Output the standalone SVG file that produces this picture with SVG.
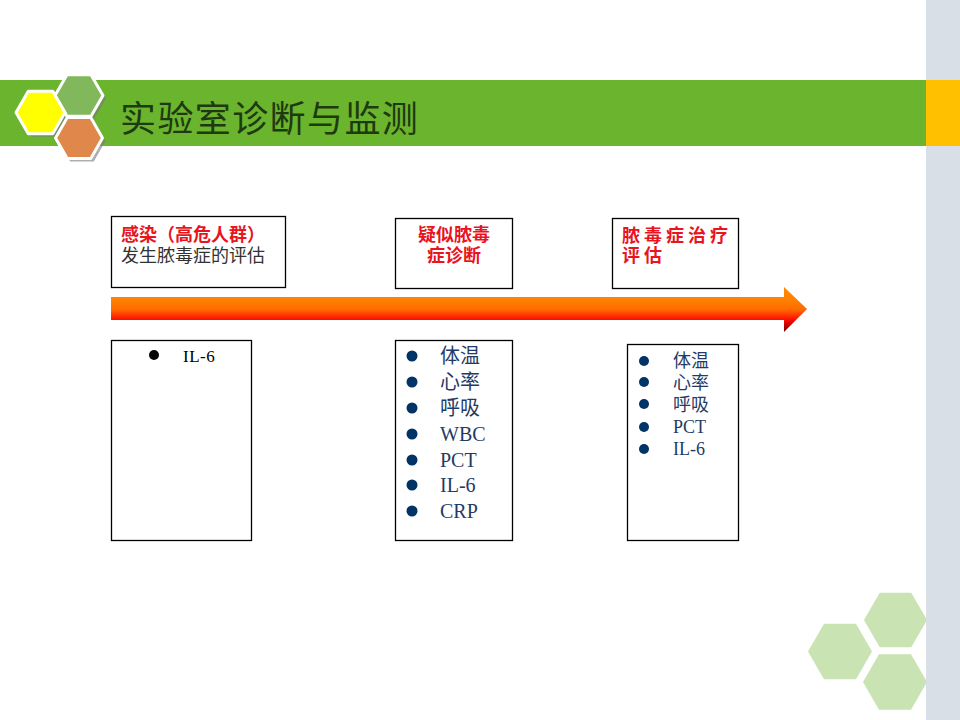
<svg xmlns="http://www.w3.org/2000/svg" width="960" height="720" viewBox="0 0 960 720">
<defs>
<style>
.box{fill:#fff;stroke:#000;stroke-width:1.3}
.red{font-family:"Liberation Serif","Noto Sans CJK SC",serif;font-weight:bold;fill:#E8141E;font-size:18px}
.gray{font-family:"Liberation Serif","Noto Sans CJK SC",serif;fill:#333;font-size:18px}
.item{font-family:"Liberation Serif","Noto Sans CJK SC",serif;fill:#1F3B66;font-size:20px}
.item2{font-family:"Liberation Serif","Noto Sans CJK SC",serif;fill:#1F3B66;font-size:18px}
.dot{fill:#003366}
.hexs{fill:#C9E3B3}
</style>
<linearGradient id="arrowGrad" x1="0" y1="0" x2="0" y2="1">
<stop offset="0" stop-color="#FF8A00"/>
<stop offset="0.3" stop-color="#FF8000"/>
<stop offset="0.5" stop-color="#FF6A00"/>
<stop offset="0.72" stop-color="#FF1000"/>
<stop offset="0.85" stop-color="#C00000"/>
<stop offset="1" stop-color="#6E0000"/>
</linearGradient>
</defs>
<rect width="960" height="720" fill="#fff"/>

<g id="bg-hexagons">
<polygon class="hexs" points="864,620 879.75,592.7 911.25,592.7 927,620 911.25,647.3 879.75,647.3"/>
<polygon class="hexs" points="808,651.5 824,623.8 856,623.8 872,651.5 856,679.2 824,679.2"/>
<polygon class="hexs" points="863,682 879,654.3 911,654.3 927,682 911,709.7 879,709.7"/>
</g>

<g id="side-strip">
<rect x="926" y="0" width="34" height="720" fill="#D8DFE7"/>
<rect x="926" y="80" width="34" height="66" fill="#FFC000"/>
</g>

<g id="header">
<rect x="0" y="80" width="926" height="66" fill="#6BB42D"/>
<g fill="#7a7a7a" opacity="0.6" transform="translate(3,3)">
<polygon points="55,95.5 67,74.7 91,74.7 103,95.5 91,116.3 67,116.3"/>
<polygon points="16,112.5 28.25,91.3 52.75,91.3 65,112.5 52.75,133.7 28.25,133.7"/>
<polygon points="55.5,138 67.25,117.6 90.75,117.6 102.5,138 90.75,158.4 67.25,158.4"/>
</g>
<g stroke="#fff" stroke-width="3" stroke-linejoin="round">
<polygon points="55,95.5 67,74.7 91,74.7 103,95.5 91,116.3 67,116.3" fill="#82B85C"/>
<polygon points="16,112.5 28.25,91.3 52.75,91.3 65,112.5 52.75,133.7 28.25,133.7" fill="#FFFF00"/>
<polygon points="55.5,138 67.25,117.6 90.75,117.6 102.5,138 90.75,158.4 67.25,158.4" fill="#E0884B"/>
</g>
<text x="120" y="132" font-family="'Noto Sans CJK SC',sans-serif" font-size="36" letter-spacing="1.4" fill="#1E3A10">实验室诊断与监测</text>
</g>

<g id="connectors">
<path d="M111,297 L784,297 L784,287 L807,309 L784,332 L784,320 L111,320 Z" fill="url(#arrowGrad)"/>
</g>

<g id="node-risk">
<rect class="box" x="111.5" y="216.5" width="174" height="71"/>
<text class="red" x="121" y="241">感染（高危人群）</text>
<text class="gray" x="121" y="262">发生脓毒症的评估</text>
</g>

<g id="node-suspect">
<rect class="box" x="395.5" y="218.5" width="117" height="70"/>
<text class="red" x="454" y="241" text-anchor="middle">疑似脓毒</text>
<text class="red" x="454" y="262" text-anchor="middle">症诊断</text>
</g>

<g id="node-treat">
<rect class="box" x="612.5" y="218.5" width="126" height="70"/>
<text class="red" x="622" y="242" font-size="17" letter-spacing="4">脓毒症治疗</text>
<text class="red" x="622" y="262" font-size="17" letter-spacing="4">评估</text>
</g>

<g id="node-list1">
<rect class="box" x="111.5" y="340.5" width="140" height="200"/>
<circle cx="154" cy="355" r="5" fill="#000"/>
<text x="183" y="362" font-family="'Liberation Serif',serif" font-size="17" letter-spacing="0.5" fill="#000">IL-6</text>
</g>

<g id="node-list2">
<rect class="box" x="395.5" y="340.5" width="117" height="200"/>
<circle class="dot" cx="412" cy="356" r="5.5"/>
<circle class="dot" cx="412" cy="382" r="5.5"/>
<circle class="dot" cx="412" cy="408" r="5.5"/>
<circle class="dot" cx="412" cy="434" r="5.5"/>
<circle class="dot" cx="412" cy="460" r="5.5"/>
<circle class="dot" cx="412" cy="485" r="5.5"/>
<circle class="dot" cx="412" cy="511" r="5.5"/>
<text class="item" x="440" y="363">体温</text>
<text class="item" x="440" y="389">心率</text>
<text class="item" x="440" y="415">呼吸</text>
<text class="item" x="440" y="441">WBC</text>
<text class="item" x="440" y="467">PCT</text>
<text class="item" x="440" y="492">IL-6</text>
<text class="item" x="440" y="518">CRP</text>
</g>

<g id="node-list3">
<rect class="box" x="627.5" y="344.5" width="111" height="196"/>
<circle class="dot" cx="644" cy="361" r="5"/>
<circle class="dot" cx="644" cy="382" r="5"/>
<circle class="dot" cx="644" cy="404" r="5"/>
<circle class="dot" cx="644" cy="427" r="5"/>
<circle class="dot" cx="644" cy="449" r="5"/>
<text class="item2" x="673" y="367">体温</text>
<text class="item2" x="673" y="389">心率</text>
<text class="item2" x="673" y="411">呼吸</text>
<text class="item2" x="673" y="433">PCT</text>
<text class="item2" x="673" y="455">IL-6</text>
</g>
</svg>
